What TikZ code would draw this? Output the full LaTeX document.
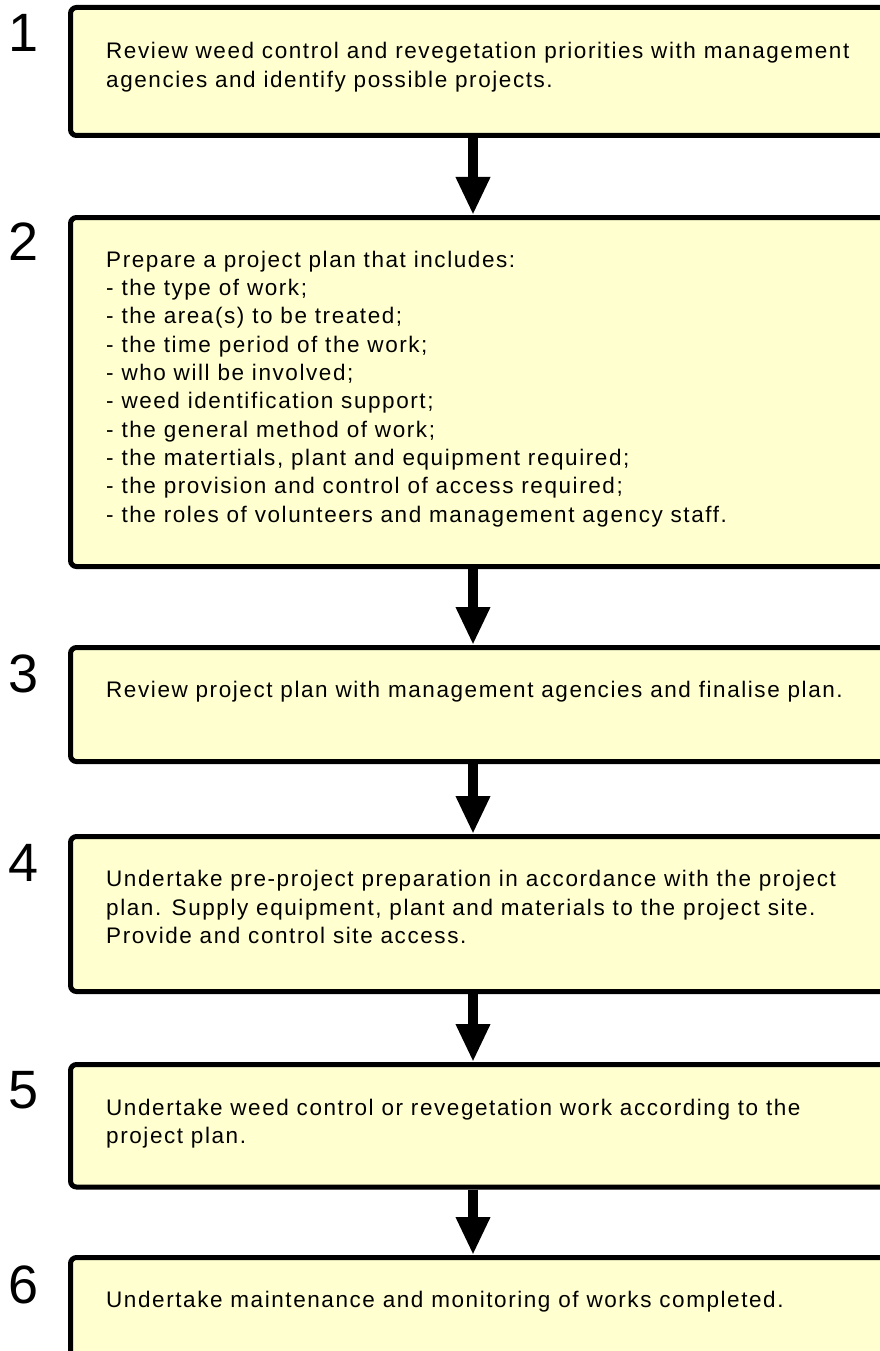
\documentclass[tikz,border=0pt]{standalone}
\usepackage{fontspec}
\setmainfont{Liberation Sans}[LetterSpace=7.0]
\usepackage{tikz}
\usetikzlibrary{arrows.meta}

\definecolor{stepfill}{RGB}{255,255,208}

\tikzset{
  stepbox/.style={draw=black, line width=5pt, rounded corners=6pt, fill=stepfill, anchor=north west, minimum width=930pt, inner sep=0pt},
  steptext/.style={anchor=base west, align=left, inner sep=0pt, font=\fontsize{22.5}{28.3}\selectfont},
  stepnum/.style={anchor=base west, inner sep=0pt, font=\fontsize{54}{60}\selectfont},
  flow/.style={line width=10pt, -{Triangle[width=32pt,length=38pt]}}
}

\begin{document}
\begin{tikzpicture}[x=1pt,y=-1pt]

\useasboundingbox (0,0) rectangle (880,1351);
\clip (0,0) rectangle (880,1351);

\coordinate(ax) at (473,0);

\node[stepbox, minimum height=128pt] (b1) at (68,5) {};
\node[stepbox, minimum height=349pt] (b2) at (68,215) {};
\node[stepbox, minimum height=114pt] (b3) at (68,645) {};
\node[stepbox, minimum height=155pt] (b4) at (68,834) {};
\node[stepbox, minimum height=122.5pt] (b5) at (68,1062) {};
\node[stepbox, minimum height=200pt] (b6) at (68,1255) {};

\node[stepnum] (n1) at (8,52) {1};
\node[stepnum] (n2) at (8,260) {2};
\node[stepnum] (n3) at (8,692) {3};
\node[stepnum] (n4) at (8,881) {4};
\node[stepnum] (n5) at (8,1108) {5};
\node[stepnum] (n6) at (8,1303) {6};

% multi-line texts sit on the baseline of their last line
\node[steptext] (t1) at (106,87.3) {Review weed control and revegetation priorities with management\\agencies and identify possible projects.};
\node[steptext] (t2) at (106,522) {Prepare a project plan that includes:\\- the type of work;\\- the area(s) to be treated;\\- the time period of the work;\\- who will be involved;\\- weed identification support;\\- the general method of work;\\- the matertials, plant and equipment required;\\- the provision and control of access required;\\- the roles of volunteers and management agency staff.};
\node[steptext] (t3) at (106,697.7) {Review project plan with management agencies and finalise plan.};
\node[steptext] (t4) at (106,943.3) {Undertake pre-project preparation in accordance with the project\\plan. Supply equipment, plant and materials to the project site.\\Provide and control site access.};
\node[steptext] (t5) at (106,1143.3) {Undertake weed control or revegetation work according to the\\project plan.};
\node[steptext] (t6) at (106,1307.7) {Undertake maintenance and monitoring of works completed.};

\draw[flow] (b1.south -| ax) -- (b2.north -| ax);
\draw[flow] (b2.south -| ax) -- (b3.north -| ax);
\draw[flow] (b3.south -| ax) -- (b4.north -| ax);
\draw[flow] (b4.south -| ax) -- (b5.north -| ax);
\draw[flow] (b5.south -| ax) -- (b6.north -| ax);

\end{tikzpicture}
\end{document}
